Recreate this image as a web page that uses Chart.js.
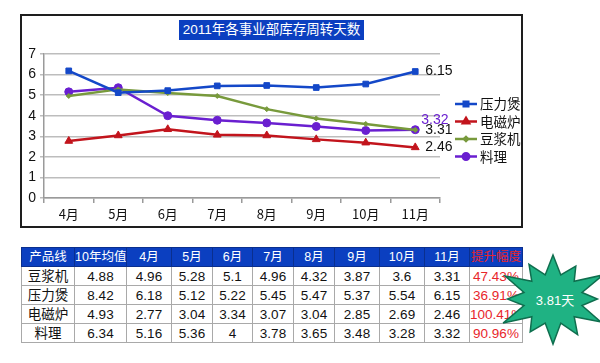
<!DOCTYPE html>
<html>
<head>
<meta charset="utf-8">
<script src="https://cdn.jsdelivr.net/npm/chart.js@4.4.0/dist/chart.umd.min.js"></script>
<style>
  body { margin: 0; background: #fff; width: 600px; height: 363px; position: relative; overflow: hidden;
         font-family: "Liberation Sans", "Noto Sans CJK SC", sans-serif; }
  #box { position: absolute; left: 20px; top: 14px; width: 499px; height: 210px; border: 2px solid #1e1e1e; }
  #box canvas { position: absolute; left: 0; top: 0; }
  #title { position: absolute; left: 157px; top: 4px; width: 185px; height: 20px; background: #0b3fc0;
           color: #fff; font-size: 13.5px; line-height: 20px; text-align: center; }
  table { position: absolute; left: 21px; top: 247px; width: 501px; border-collapse: collapse; table-layout: fixed; }
  tr { height: 19px; }
  td { border: 1.5px solid #a9a9a9; padding: 0; text-align: center; font-size: 13.5px; line-height: 15px;
       color: #111; white-space: nowrap; overflow: hidden; }
  tr.head td { background: #0b3fc0; color: #fff; font-size: 12.5px; border-color: #0a2f8e; }
  td.red { color: #e8262c; }
  tr.head td.red { color: #e8262c; }
  #star { position: absolute; left: 490px; top: 250px; }
  #starText { position: absolute; left: 525px; top: 290px; width: 60px; text-align: center; color: #fff; font-size: 13px; }
</style>
</head>
<body>
<div id="box">
  <canvas id="myChart" width="499" height="210"></canvas>
  <div id="title">2011年各事业部库存周转天数</div>
</div>
<table id="tbl"></table>
<svg id="star" width="112" height="100"></svg>
<div id="starText">3.81天</div>
<script>
const months = ["4月", "5月", "6月", "7月", "8月", "9月", "10月", "11月"];
const seriesNames = ["压力煲", "电磁炉", "豆浆机", "料理"];
const yaliBao = [6.18, 5.12, 5.22, 5.45, 5.47, 5.37, 5.54, 6.15];
const dianCiLu = [2.77, 3.04, 3.34, 3.07, 3.04, 2.85, 2.69, 2.46];
const douJiangJi = [4.96, 5.28, 5.1, 4.96, 4.32, 3.87, 3.6, 3.31];
const liaoLi = [5.16, 5.36, 4, 3.78, 3.65, 3.48, 3.28, 3.32];
const yTicks = [0, 1, 2, 3, 4, 5, 6, 7];

// table data
const tableHead = ["产品线", "10年均值", "4月", "5月", "6月", "7月", "8月", "9月", "10月", "11月", "提升幅度"];
const tableProducts = ["豆浆机", "压力煲", "电磁炉", "料理"];
const avg2010 = [4.88, 8.42, 4.93, 6.34];
const improve = ["47.43%", "36.91%", "100.41%", "90.96%"];
const colWidths = [53, 52, 45, 41, 40, 41, 41, 45, 45, 45, 53];

const colors = ["#1448c8", "#c2141c", "#789a3c", "#6a1fd0"];
const markers = ["rect", "triangle", "rectRot", "circle"];
const markerSize = [4, 4.5, 2.5, 4];
const seriesData = [yaliBao, dianCiLu, douJiangJi, liaoLi];

function buildTable() {
  let tbl = document.getElementById("tbl");
  let html = `<colgroup>${colWidths.map(w => `<col style="width:${w}px">`).join("")}</colgroup>`;
  html += `<tr class="head">${tableHead.map((h, i) => `<td${i == tableHead.length - 1 ? ' class="red"' : ""}>${h}</td>`).join("")}</tr>`;
  let rowSeries = [douJiangJi, yaliBao, dianCiLu, liaoLi];
  for (let i = 0; i < tableProducts.length; i++) {
    html += `<tr><td>${tableProducts[i]}</td><td>${avg2010[i]}</td>`;
    html += rowSeries[i].map(v => `<td>${v}</td>`).join("");
    html += `<td class="red">${improve[i]}</td></tr>`;
  }
  tbl.innerHTML = html;
}

function buildStar() {
  // decorative burst behind "3.81天"
  let cx = 63, cy = 49;
  let outer = [44, 38, 48, 37, 46, 41, 45, 38, 48, 38, 46, 40];
  let pts = [];
  for (let i = 0; i < 24; i++) {
    let a = -Math.PI / 2 + (i * Math.PI) / 12;
    let r = i % 2 == 0 ? outer[i / 2] : 25;
    pts.push((cx + r * Math.cos(a) * 1.2).toFixed(1) + "," + (cy + r * Math.sin(a)).toFixed(1));
  }
  document.getElementById("star").innerHTML =
    `<polygon points="${pts.join(" ")}" fill="#1fb283" stroke="#0f6e4e" stroke-width="1.5"/>`;
}

const legendAndLabels = {
  id: "legendAndLabels",
  afterDraw(chart) {
    const ctx = chart.ctx;
    ctx.save();
    ctx.font = '13.5px "Noto Sans CJK SC", sans-serif';
    ctx.textBaseline = "middle";
    for (let i = 0; i < seriesNames.length; i++) {
      let y = 88 + i * 17.5;
      let x = 433;
      ctx.strokeStyle = colors[i];
      ctx.lineWidth = 2.5;
      ctx.beginPath();
      ctx.moveTo(x, y);
      ctx.lineTo(x + 22, y);
      ctx.stroke();
      Chart.helpers.drawPoint(ctx, { pointStyle: markers[i], radius: markerSize[i] * 0.8, rotation: 0, borderWidth: 1 }, x + 11, y);
      ctx.fillStyle = colors[i];
      ctx.fill();
      ctx.fillStyle = "#111";
      ctx.fillText(seriesNames[i], x + 25, y);
    }
    // end labels
    ctx.font = '14px "Liberation Sans", sans-serif';
    const shifts = [0, 0, 0, -10];
    const labelColors = ["#111", "#111", "#111", "#6a1fd0"];
    for (let i = 0; i < seriesData.length; i++) {
      let meta = chart.getDatasetMeta(i);
      let last = meta.data[meta.data.length - 1];
      let v = seriesData[i][seriesData[i].length - 1];
      ctx.fillStyle = labelColors[i];
      ctx.fillText(v.toFixed(2), last.x + (i == 3 ? 6 : 10), last.y + shifts[i]);
    }
    ctx.restore();
  },
};

function loadChart() {
  const ctx = document.getElementById("myChart");
  new Chart(ctx, {
    type: "line",
    data: {
      labels: months,
      datasets: seriesNames.map((name, i) => ({
        label: name,
        data: seriesData[i],
        borderColor: colors[i],
        backgroundColor: colors[i],
        borderWidth: 2.5,
        pointStyle: markers[i],
        pointRadius: markerSize[i],
        pointBorderWidth: 1,
        tension: 0,
      })),
    },
    options: {
      responsive: false,
      animation: false,
      events: [],
      layout: { padding: { top: 38, right: 81, bottom: 5, left: 0 } },
      scales: {
        x: {
          offset: true,
          grid: { offset: true, drawOnChartArea: false, color: "#9a9a9a", tickLength: 5, lineWidth: 1.5 },
          border: { color: "#9a9a9a", width: 1.5 },
          ticks: { color: "#111", font: { size: 13, family: '"Noto Sans CJK SC", sans-serif' }, padding: 3, maxRotation: 0 },
          afterFit(scale) { scale.height = 23; },
        },
        y: {
          min: 0,
          max: 7,
          afterBuildTicks(scale) { scale.ticks = yTicks.map(v => ({ value: v })); },
          grid: { color: "#bdbdbd", tickLength: 4, lineWidth: 1.5 },
          border: { color: "#9a9a9a", width: 1.5 },
          ticks: { color: "#111", font: { size: 14, family: '"Liberation Sans", sans-serif' }, padding: 4 },
          afterFit(scale) { scale.width = 22; },
        },
      },
      plugins: { legend: { display: false }, tooltip: { enabled: false } },
    },
    plugins: [legendAndLabels],
  });
}

buildTable();
buildStar();
loadChart();
</script>
</body>
</html>
